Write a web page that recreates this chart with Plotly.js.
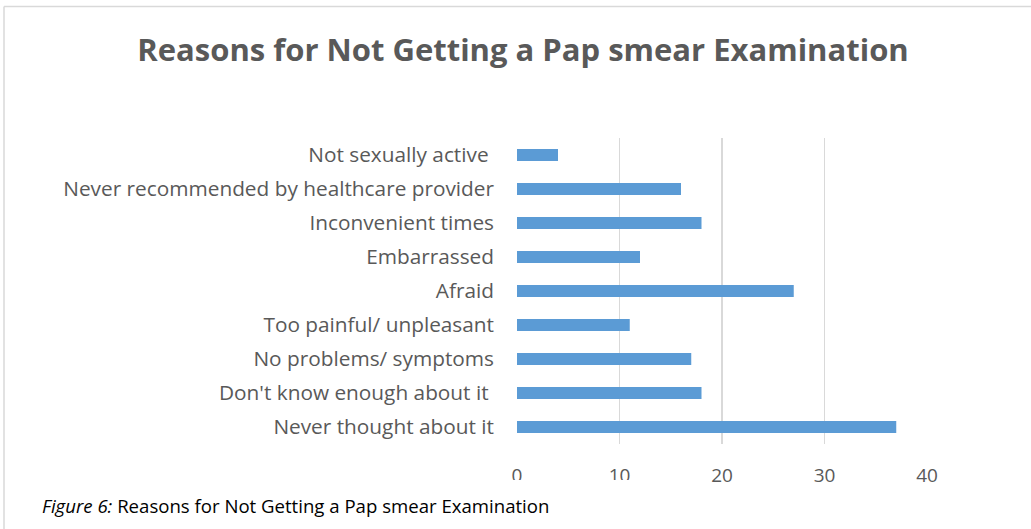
<!DOCTYPE html>
<html>
<head>
<meta charset="utf-8">
<script src="https://cdn.plot.ly/plotly-3.0.1.min.js"></script>
<style>
  html, body { margin: 0; padding: 0; background: #ffffff; }
  #chart { width: 1031px; height: 529px; }
</style>
</head>
<body>
<div id="chart"></div>
<script>
// Data (bottom to top as displayed)
const categories = [
  "Never thought about it",
  "Don't know enough about it\u00a0",
  "No problems/ symptoms",
  "Too painful/ unpleasant",
  "Afraid",
  "Embarrassed",
  "Inconvenient times",
  "Never recommended by healthcare provider",
  "Not sexually active\u00a0"
];
const values = [37, 18, 17, 11, 27, 12, 18, 16, 4];
const xTickValues = [0, 10, 20, 30, 40];
const chartTitle = "Reasons for Not Getting a Pap smear Examination";
const captionLabel = "Figure 6:";
const captionText = "Reasons for Not Getting a Pap smear Examination";

const W = 1031, H = 529;
const M = { l: 517, r: 104, t: 138, b: 85 };
const pw = W - M.l - M.r, ph = H - M.t - M.b;
const px = v => (v - M.l) / pw;          // pixel x -> paper x
const py = v => (H - M.b - v) / ph;      // pixel y -> paper y

const trace = {
  type: 'bar',
  orientation: 'h',
  y: categories,
  x: values,
  width: 0.36,
  marker: { color: '#5b9bd5', line: { width: 0 } },
  hoverinfo: 'x+y'
};

const layout = {
  width: W, height: H,
  margin: M,
  paper_bgcolor: '#ffffff',
  plot_bgcolor: '#ffffff',
  showlegend: false,
  font: { family: 'Open Sans, sans-serif', color: '#595959' },
  title: {
    text: '<b>' + chartTitle + '</b>',
    font: { family: 'Open Sans, sans-serif', size: 31, color: '#595959' },
    x: 523 / W, xanchor: 'center',
    y: 1 - 50 / H, yanchor: 'middle'
  },
  xaxis: {
    range: [0, 40],
    tickvals: xTickValues,
    ticktext: xTickValues.map(String),
    showgrid: true,
    gridcolor: '#d9d9d9',
    gridwidth: 1.5,
    zeroline: false,
    showline: false,
    ticks: '',
    ticklabelstandoff: 18,
    tickfont: { size: 19, color: '#595959' },
    fixedrange: true
  },
  yaxis: {
    type: 'category',
    range: [-0.5, categories.length - 0.5],
    showgrid: false,
    zeroline: false,
    showline: false,
    ticks: '',
    ticklabelstandoff: 22,
    tickfont: { size: 20.8, color: '#595959' },
    fixedrange: true
  },
  shapes: [
    // white caption box that hides the bottom of the first axis labels
    { type: 'rect', xref: 'paper', yref: 'paper', layer: 'above',
      x0: px(6), x1: px(650), y0: py(480), y1: py(H + 5),
      fillcolor: '#ffffff', line: { width: 0 } },
    // outer frame lines (top and left)
    { type: 'line', xref: 'paper', yref: 'paper', layer: 'above',
      x0: px(4), x1: px(W + 5), y0: py(6.5), y1: py(6.5),
      line: { color: '#d9d9d9', width: 1.5 } },
    { type: 'line', xref: 'paper', yref: 'paper', layer: 'above',
      x0: px(4), x1: px(4), y0: py(6.5), y1: py(H + 5),
      line: { color: '#d9d9d9', width: 1.5 } }
  ],
  annotations: [
    { xref: 'paper', yref: 'paper', x: px(40), y: py(505),
      xanchor: 'left', yanchor: 'middle', showarrow: false,
      text: '<i>' + captionLabel + '</i> ' + captionText,
      font: { family: 'Open Sans, sans-serif', size: 18.6, color: '#000000' } }
  ]
};

Plotly.newPlot('chart', [trace], layout, { displayModeBar: false, staticPlot: true });
</script>
</body>
</html>
